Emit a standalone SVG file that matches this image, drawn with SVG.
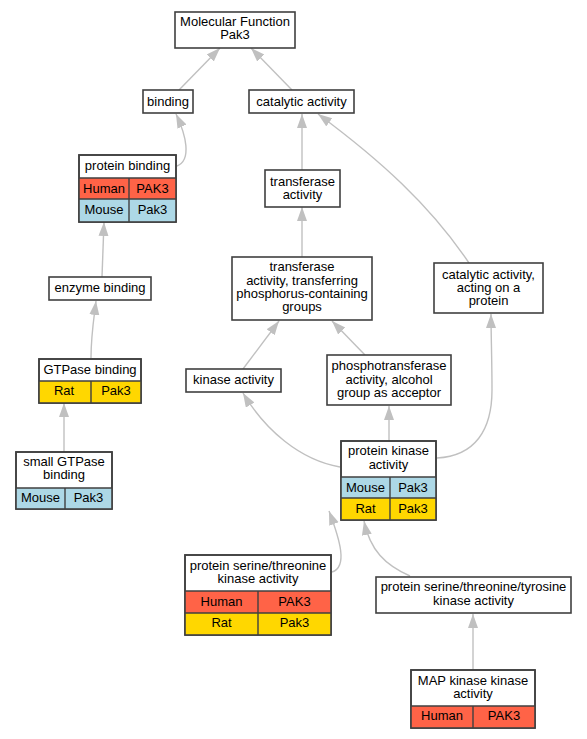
<svg xmlns="http://www.w3.org/2000/svg" width="587" height="739" viewBox="0 0 587 739">
<style>
text{font-family:"Liberation Sans",Arial,sans-serif;font-size:13px;fill:#000;text-anchor:middle}
.b{fill:#fff;stroke:#404040;stroke-width:1.6}
.c{stroke:#404040;stroke-width:1.4}
.h{fill:#ff6347}
.m{fill:#add8e6}
.r{fill:#ffd700}
.e{fill:none;stroke:#c0c0c0;stroke-width:1.4;marker-end:url(#a)}
</style>
<defs>
<marker id="a" markerUnits="userSpaceOnUse" markerWidth="15" markerHeight="11" refX="14" refY="5" orient="auto" viewBox="0 0 15 11">
<path d="M0,0 L14,5 L0,10 z" fill="#c0c0c0"/>
</marker>
</defs>
<rect width="587" height="739" fill="#fff"/>
<g id="connectors">
<path class="e" d="M179,90 L220,48"/>
<path class="e" d="M292,90 L251,48"/>
<path class="e" d="M177,166 C192,160 186,135 176,114"/>
<path class="e" d="M302,170 L302,114"/>
<path class="e" d="M469,263 C430,205 380,160 318,114"/>
<path class="e" d="M302,257 L302,207"/>
<path class="e" d="M243,369 L279,321"/>
<path class="e" d="M365,355 L332,321"/>
<path class="e" d="M340,467 C300,460 265,430 243,393"/>
<path class="e" d="M389,441 L389,406"/>
<path class="e" d="M437,458 C475,456 492,430 492,390 C492,360 491,335 491,314"/>
<path class="e" d="M332,572 C348,567 340,540 329,511"/>
<path class="e" d="M410,576 C385,565 370,550 364,521"/>
<path class="e" d="M473,670 L473,614"/>
<path class="e" d="M102,277 L104,222"/>
<path class="e" d="M91,358 C91,335 94,318 96,301"/>
<path class="e" d="M64,452 L64,403"/>
</g>
<g id="n_mf">
<rect class="b" x="175" y="12" width="120" height="36"/>
<text x="235" y="26">Molecular Function</text>
<text x="235" y="39">Pak3</text>
</g>
<g id="n_binding">
<rect class="b" x="143" y="90" width="50" height="23"/>
<text x="168" y="105.5">binding</text>
</g>
<g id="n_catalytic">
<rect class="b" x="249" y="90" width="105" height="23"/>
<text x="301.5" y="105.5">catalytic activity</text>
</g>
<g id="n_protein_binding">
<rect class="b" x="79" y="155" width="97" height="67"/>
<rect class="h" x="79" y="178" width="97" height="21"/>
<rect class="m" x="79" y="199" width="97" height="23"/>
<path class="c" d="M79,178 H176 M79,199 H176 M129,178 V222" fill="none"/>
<rect x="79" y="155" width="97" height="67" fill="none" stroke="#404040" stroke-width="1.6"/>
<text x="127.5" y="170">protein binding</text>
<text x="104" y="192.5">Human</text>
<text x="152.5" y="192.5">PAK3</text>
<text x="104" y="213.5">Mouse</text>
<text x="152.5" y="213.5">Pak3</text>
</g>
<g id="n_transferase">
<rect class="b" x="265" y="170" width="75" height="37"/>
<text x="302.5" y="185.5">transferase</text>
<text x="302.5" y="198.5">activity</text>
</g>
<g id="n_transferring">
<rect class="b" x="232" y="257" width="140" height="63"/>
<text x="302" y="271">transferase</text>
<text x="302" y="284.5">activity, transferring</text>
<text x="302" y="297.5">phosphorus-containing</text>
<text x="302" y="311">groups</text>
</g>
<g id="n_acting">
<rect class="b" x="434" y="263" width="109" height="50"/>
<text x="488.5" y="278.5">catalytic activity,</text>
<text x="488.5" y="291.5">acting on a</text>
<text x="488.5" y="305">protein</text>
</g>
<g id="n_enzyme">
<rect class="b" x="49" y="277" width="102" height="23"/>
<text x="100" y="291.5">enzyme binding</text>
</g>
<g id="n_gtpase">
<rect class="b" x="39" y="359" width="102" height="44"/>
<rect class="r" x="39" y="381" width="102" height="22"/>
<path class="c" d="M39,381 H141 M91,381 V403" fill="none"/>
<rect x="39" y="359" width="102" height="44" fill="none" stroke="#404040" stroke-width="1.6"/>
<text x="90" y="373.5">GTPase binding</text>
<text x="64" y="395">Rat</text>
<text x="116" y="395">Pak3</text>
</g>
<g id="n_small_gtpase">
<rect class="b" x="16" y="452" width="96" height="57"/>
<rect class="m" x="16" y="488" width="96" height="21"/>
<path class="c" d="M16,488 H112 M65,488 V509" fill="none"/>
<rect x="16" y="452" width="96" height="57" fill="none" stroke="#404040" stroke-width="1.6"/>
<text x="64" y="466">small GTPase</text>
<text x="64" y="479">binding</text>
<text x="40.5" y="501.5">Mouse</text>
<text x="88.5" y="501.5">Pak3</text>
</g>
<g id="n_kinase">
<rect class="b" x="186" y="369" width="95" height="23"/>
<text x="233.5" y="383.5">kinase activity</text>
</g>
<g id="n_phospho">
<rect class="b" x="327" y="355" width="124" height="50"/>
<text x="389" y="370">phosphotransferase</text>
<text x="389" y="383.5">activity, alcohol</text>
<text x="389" y="397">group as acceptor</text>
</g>
<g id="n_protein_kinase">
<rect class="b" x="341" y="441" width="95" height="79"/>
<rect class="m" x="341" y="477" width="95" height="21"/>
<rect class="r" x="341" y="498" width="95" height="22"/>
<path class="c" d="M341,477 H436 M341,498 H436 M390,477 V520" fill="none"/>
<rect x="341" y="441" width="95" height="79" fill="none" stroke="#404040" stroke-width="1.6"/>
<text x="388.5" y="455">protein kinase</text>
<text x="388.5" y="469">activity</text>
<text x="365.5" y="491.5">Mouse</text>
<text x="413" y="491.5">Pak3</text>
<text x="365.5" y="512.5">Rat</text>
<text x="413" y="512.5">Pak3</text>
</g>
<g id="n_ser_thr">
<rect class="b" x="185" y="555" width="146" height="80"/>
<rect class="h" x="185" y="591" width="146" height="22"/>
<rect class="r" x="185" y="613" width="146" height="22"/>
<path class="c" d="M185,591 H331 M185,613 H331 M258,591 V635" fill="none"/>
<rect x="185" y="555" width="146" height="80" fill="none" stroke="#404040" stroke-width="1.6"/>
<text x="258" y="570">protein serine/threonine</text>
<text x="258" y="583">kinase activity</text>
<text x="221.5" y="605.5">Human</text>
<text x="294.5" y="605.5">PAK3</text>
<text x="221.5" y="627">Rat</text>
<text x="294.5" y="627">Pak3</text>
</g>
<g id="n_ser_thr_tyr">
<rect class="b" x="376" y="577" width="195" height="36"/>
<text x="473.5" y="591">protein serine/threonine/tyrosine</text>
<text x="473.5" y="604.5">kinase activity</text>
</g>
<g id="n_map">
<rect class="b" x="411" y="670" width="124" height="58"/>
<rect class="h" x="411" y="706" width="124" height="22"/>
<path class="c" d="M411,706 H535 M473,706 V728" fill="none"/>
<rect x="411" y="670" width="124" height="58" fill="none" stroke="#404040" stroke-width="1.6"/>
<text x="473" y="685">MAP kinase kinase</text>
<text x="473" y="698">activity</text>
<text x="442" y="720">Human</text>
<text x="504" y="720">PAK3</text>
</g>
</svg>
